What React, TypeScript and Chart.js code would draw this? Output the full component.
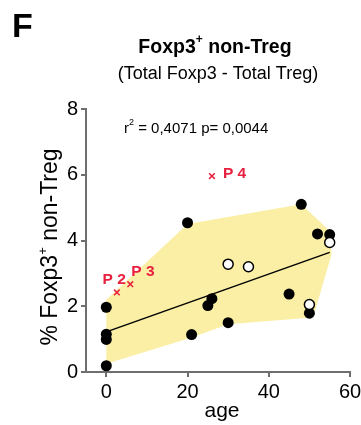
import React, { useEffect, useRef } from "react";
import { Chart, registerables } from "chart.js";

Chart.register(...registerables);

const blackX = [0, 0, 0, 0, 20, 21, 25, 26, 30, 45, 48, 50, 52, 55];
const blackY = [1.97, 1.15, 0.99, 0.19, 4.54, 1.14, 2.02, 2.23, 1.5, 2.37, 5.1, 1.79, 4.2, 4.18];
const whiteX = [30, 35, 50, 55];
const whiteY = [3.28, 3.2, 2.05, 3.94];
const redX = [2.6, 5.9, 26];
const redY = [2.42, 2.67, 5.96];
const redLabels = ["P 2", "P 3", "P 4"];
const fitX = [0, 55];
const fitY = [1.22, 3.64];
const hullX = [0, 0, 20, 48, 54.5, 55.5, 51.5, 50, 30, 21, 0];
const hullY = [0.25, 2.2, 4.5, 5.1, 4.35, 3.6, 1.9, 1.65, 1.45, 1.05, 0.25];
const xTicks = [0, 20, 40, 60];
const yTicks = [0, 2, 4, 6, 8];

const FONT = "'Liberation Sans', Arial, sans-serif";
const AXIS = "#6e6e6e";
const RED = "#e8203f";

const pts = (xs: number[], ys: number[]) => xs.map((x, i) => ({ x, y: ys[i] }));

const textPlugin = {
  id: "texts",
  afterDraw(chart: any) {
    const ctx = chart.ctx;
    const xs = chart.scales.x;
    const ys = chart.scales.y;
    ctx.save();
    ctx.fillStyle = "#000";
    ctx.textBaseline = "middle";
    // Panel letter
    ctx.font = `bold 34px ${FONT}`;
    ctx.textAlign = "left";
    ctx.fillText("F", 12, 28);
    // Title with superscript
    const t1 = "Foxp3";
    const t2 = " non-Treg";
    ctx.font = `bold 19.5px ${FONT}`;
    const w1 = ctx.measureText(t1).width;
    const w2 = ctx.measureText(t2).width;
    ctx.font = `bold 12px ${FONT}`;
    const wp = ctx.measureText("+").width;
    const sx = 215 - (w1 + wp + w2) / 2;
    ctx.font = `bold 19.5px ${FONT}`;
    ctx.fillText(t1, sx, 48);
    ctx.font = `bold 12px ${FONT}`;
    ctx.fillText("+", sx + w1, 40);
    ctx.font = `bold 19.5px ${FONT}`;
    ctx.fillText(t2, sx + w1 + wp, 48);
    // Subtitle
    ctx.font = `18px ${FONT}`;
    ctx.textAlign = "center";
    ctx.fillText("(Total Foxp3 - Total Treg)", 218, 74);
    // r2 annotation
    ctx.textAlign = "left";
    ctx.font = `15px ${FONT}`;
    ctx.fillText("r", 124, 129);
    const wr = ctx.measureText("r").width;
    ctx.font = `9px ${FONT}`;
    ctx.fillText("2", 124 + wr, 123);
    const w22 = ctx.measureText("2").width;
    ctx.font = `15px ${FONT}`;
    ctx.fillText(" = 0,4071 p= 0,0044", 124 + wr + w22, 129);
    // red labels
    ctx.fillStyle = RED;
    ctx.font = `bold 15.5px ${FONT}`;
    const px = xs.getPixelForValue(redX[0]);
    const py = ys.getPixelForValue(redY[0]);
    ctx.textAlign = "right";
    ctx.fillText(redLabels[0], px + 9, py - 13);
    ctx.textAlign = "left";
    ctx.fillText(redLabels[1], xs.getPixelForValue(redX[1]) + 1, ys.getPixelForValue(redY[1]) - 13);
    ctx.fillText(redLabels[2], xs.getPixelForValue(redX[2]) + 11, ys.getPixelForValue(redY[2]) - 2);
    // axis titles
    ctx.fillStyle = "#000";
    ctx.font = `21px ${FONT}`;
    ctx.textAlign = "center";
    ctx.fillText("age", 222, 411);
    ctx.save();
    ctx.translate(57, 247);
    ctx.rotate(-Math.PI / 2);
    ctx.textBaseline = "alphabetic";
    const a1 = "% Foxp3";
    const a2 = " non-Treg";
    ctx.font = `23px ${FONT}`;
    const aw1 = ctx.measureText(a1).width;
    const aw2 = ctx.measureText(a2).width;
    ctx.font = `13px ${FONT}`;
    const awp = ctx.measureText("+").width;
    const ax = -(aw1 + awp + aw2) / 2;
    ctx.textAlign = "left";
    ctx.font = `23px ${FONT}`;
    ctx.fillText(a1, ax, 0);
    ctx.font = `13px ${FONT}`;
    ctx.fillText("+", ax + aw1, -10);
    ctx.font = `23px ${FONT}`;
    ctx.fillText(a2, ax + aw1 + awp, 0);
    ctx.restore();
    ctx.restore();
  },
};

export default function App() {
  const ref = useRef<HTMLCanvasElement>(null);
  useEffect(() => {
    if (!ref.current) return;
    const chart = new Chart(ref.current, {
      type: "scatter",
      data: {
        datasets: [
          {
            type: "line",
            data: pts(hullX, hullY),
            showLine: true,
            fill: "shape",
            backgroundColor: "rgba(250, 239, 165, 1)",
            borderWidth: 0,
            borderColor: "rgba(0,0,0,0)",
            pointRadius: 0,
            tension: 0,
            order: 4,
          } as any,
          {
            type: "line",
            data: pts(fitX, fitY),
            showLine: true,
            fill: false,
            borderColor: "#000",
            borderWidth: 1.5,
            pointRadius: 0,
            order: 3,
          } as any,
          {
            data: pts(blackX, blackY),
            backgroundColor: "#000",
            borderColor: "#000",
            pointRadius: 5.5,
            borderWidth: 0,
            order: 2,
          },
          {
            data: pts(whiteX, whiteY),
            backgroundColor: "#fff",
            borderColor: "#000",
            pointRadius: 5,
            borderWidth: 1.5,
            order: 1,
          },
          {
            data: pts(redX, redY),
            pointStyle: "crossRot",
            borderColor: RED,
            backgroundColor: RED,
            pointRadius: 4,
            borderWidth: 1.5,
            order: 0,
          },
        ],
      },
      options: {
        animation: false,
        responsive: false,
        maintainAspectRatio: false,
        layout: { padding: { left: 0, top: 109, right: 11, bottom: 0 } },
        plugins: { legend: { display: false }, tooltip: { enabled: false } },
        scales: {
          x: {
            type: "linear",
            min: -5,
            max: 60,
            afterFit: (s: any) => { s.height = 53; s.paddingRight = 0; s.paddingLeft = 0; },
            afterBuildTicks: (s: any) => { s.ticks = xTicks.map((v) => ({ value: v })); },
            grid: { drawOnChartArea: false, drawTicks: true, tickLength: 5, color: AXIS, lineWidth: 2 },
            border: { display: true, color: AXIS, width: 2 },
            ticks: { color: "#000", font: { family: FONT, size: 20 }, padding: 3, maxRotation: 0 },
          },
          y: {
            type: "linear",
            min: 0,
            max: 8,
            afterFit: (s: any) => { s.width = 86; s.paddingTop = 0; s.paddingBottom = 0; },
            afterBuildTicks: (s: any) => { s.ticks = yTicks.map((v) => ({ value: v })); },
            grid: { drawOnChartArea: false, drawTicks: true, tickLength: 5, color: AXIS, lineWidth: 2 },
            border: { display: true, color: AXIS, width: 2 },
            ticks: { color: "#000", font: { family: FONT, size: 20 }, padding: 3 },
          },
        },
      },
      plugins: [textPlugin],
    });
    return () => chart.destroy();
  }, []);
  return (
    <div style={{ position: "fixed", left: 0, top: 0, width: 361, height: 425, background: "#fff" }}>
      <canvas ref={ref} width={361} height={425} style={{ width: 361, height: 425 }} />
    </div>
  );
}
